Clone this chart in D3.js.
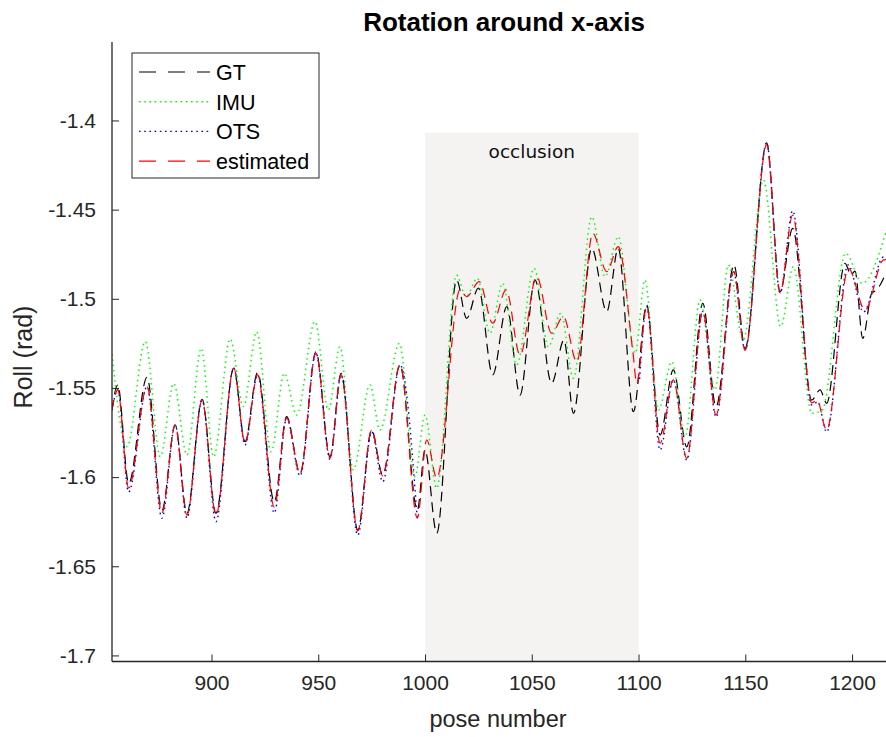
<!DOCTYPE html>
<html><head><meta charset="utf-8">
<script src="https://cdn.jsdelivr.net/npm/d3@7"></script>
<style>body{margin:0;background:#fff;} svg{display:block;}</style>
</head><body><svg id="chart" width="886" height="737"></svg>
<script>
// ---- data ----
const xTicks = [900, 950, 1000, 1050, 1100, 1150, 1200];
const yTicks = [-1.7, -1.65, -1.6, -1.55, -1.5, -1.45, -1.4];
const occlusion = [1000, 1100];
const legendLabels = ["GT", "IMU", "OTS", "estimated"];

const gtPose = [853.4, 856.1, 861.2, 869.8, 876.8, 883.0, 888.5, 895.6, 902.1, 910.4, 915.7, 921.6, 929.4, 935.2, 941.5, 948.9, 955.5, 960.7, 968.5, 975.0, 980.2, 988.3, 996.4, 1000.0, 1005.5, 1014.8, 1019.5, 1025.0, 1031.7, 1038.3, 1044.5, 1051.5, 1059.3, 1065.1, 1069.5, 1078.1, 1085.1, 1090.5, 1097.6, 1103.8, 1110.1, 1116.3, 1122.6, 1130.1, 1136.3, 1144.7, 1149.9, 1160.0, 1166.3, 1172.2, 1181.1, 1185.0, 1188.1, 1196.7, 1199.5, 1201.4, 1205.0, 1209.2, 1211.5, 1215.9];
const gtRoll = [-1.5624, -1.5483, -1.6035, -1.544, -1.6185, -1.5708, -1.6203, -1.5564, -1.6203, -1.539, -1.5801, -1.5414, -1.6138, -1.5661, -1.5979, -1.5297, -1.5886, -1.5418, -1.6297, -1.5736, -1.5988, -1.5371, -1.6185, -1.5848, -1.6315, -1.4895, -1.511, -1.494, -1.5427, -1.5044, -1.554, -1.4895, -1.5474, -1.5231, -1.5642, -1.4717, -1.5072, -1.4717, -1.5633, -1.5035, -1.5764, -1.5399, -1.583, -1.5025, -1.5605, -1.481, -1.5278, -1.4125, -1.496, -1.4605, -1.5568, -1.5511, -1.5586, -1.4801, -1.4865, -1.4845, -1.5222, -1.4969, -1.4951, -1.4855];

const imuPose = [853.4, 860.4, 869.0, 876.0, 882.3, 888.5, 895.2, 901.0, 908.8, 914.9, 921.2, 927.9, 934.1, 939.9, 948.5, 954.7, 960.2, 966.4, 974.2, 978.9, 988.0, 995.3, 1000.0, 1005.5, 1014.8, 1019.2, 1024.5, 1030.4, 1036.4, 1042.9, 1051.1, 1057.8, 1063.6, 1069.5, 1078.1, 1084.3, 1090.5, 1098.4, 1103.0, 1109.3, 1115.6, 1121.8, 1128.8, 1135.8, 1142.1, 1149.0, 1158.5, 1166.6, 1172.5, 1181.1, 1186.0, 1197.0, 1204.8, 1215.9];
const imuRoll = [-1.531, -1.583, -1.524, -1.5886, -1.5474, -1.5876, -1.5278, -1.5886, -1.5225, -1.5605, -1.5185, -1.5858, -1.5418, -1.5652, -1.5128, -1.5624, -1.5269, -1.596, -1.5483, -1.5736, -1.525, -1.5998, -1.5652, -1.6063, -1.4867, -1.4988, -1.4885, -1.5193, -1.4913, -1.5371, -1.4829, -1.5269, -1.5081, -1.5446, -1.454, -1.4876, -1.4652, -1.5306, -1.4895, -1.5624, -1.5353, -1.5773, -1.5007, -1.5511, -1.481, -1.5231, -1.4334, -1.5156, -1.482, -1.5642, -1.5625, -1.4745, -1.4913, -1.4625];

// OTS has no measurements during the occlusion (split into two runs)
const otsPoseA = [853.4, 856.1, 861.2, 869.8, 876.8, 883.0, 888.5, 895.6, 902.1, 910.4, 915.7, 921.6, 929.4, 935.2, 941.5, 948.9, 955.5, 960.7, 968.5, 975.0, 980.2, 988.3, 996.4];
const otsRollA = [-1.5624, -1.5511, -1.6084, -1.5493, -1.623, -1.5708, -1.623, -1.5568, -1.625, -1.5388, -1.582, -1.5427, -1.6201, -1.5669, -1.5993, -1.5304, -1.59, -1.5427, -1.6326, -1.5747, -1.6026, -1.5371, -1.6241];
const otsPoseB = [1100.5, 1103.8, 1110.1, 1116.3, 1122.6, 1130.1, 1136.3, 1144.5, 1149.9, 1160.0, 1166.3, 1172.2, 1181.1, 1184.0, 1188.1, 1198.2, 1205.4, 1214.7, 1215.9];
const otsRollB = [-1.545, -1.5044, -1.5848, -1.5455, -1.5904, -1.5072, -1.5663, -1.4848, -1.5287, -1.4126, -1.4967, -1.4506, -1.5596, -1.5579, -1.5747, -1.481, -1.5074, -1.4766, -1.477];

const estPose = [853.4, 856.1, 861.2, 869.8, 876.8, 883.0, 888.5, 895.6, 902.1, 910.4, 915.7, 921.6, 929.4, 935.2, 941.5, 948.9, 955.5, 960.7, 968.5, 975.0, 980.2, 988.3, 996.4, 1000.8, 1005.5, 1016.4, 1019.5, 1025.4, 1031.7, 1038.0, 1044.5, 1052.3, 1059.3, 1064.8, 1071.1, 1078.6, 1085.1, 1090.5, 1097.4, 1099.2, 1103.8, 1110.1, 1116.3, 1122.6, 1130.1, 1136.3, 1144.5, 1149.9, 1160.0, 1166.3, 1172.2, 1181.1, 1183.6, 1188.1, 1198.3, 1206.1, 1214.7, 1215.9];
const estRoll = [-1.5624, -1.5511, -1.6061, -1.5493, -1.6201, -1.5708, -1.6213, -1.5568, -1.6213, -1.5388, -1.5809, -1.5427, -1.6168, -1.5669, -1.5979, -1.5304, -1.5893, -1.5427, -1.6302, -1.5736, -1.5993, -1.5371, -1.623, -1.5792, -1.6005, -1.495, -1.4988, -1.4904, -1.5137, -1.495, -1.5315, -1.4876, -1.5193, -1.51, -1.5353, -1.4633, -1.4848, -1.4708, -1.5304, -1.5474, -1.5044, -1.581, -1.5455, -1.5895, -1.5072, -1.5652, -1.4848, -1.5287, -1.4137, -1.4967, -1.453, -1.5584, -1.5568, -1.5736, -1.4829, -1.5063, -1.4782, -1.4780];

// ---- layout ----
const svg = d3.select("#chart");
const L = 112, R = 886, T = 42, B = 661.5;
const x = d3.scaleLinear().domain([853.4, 1215.9]).range([L, R]);
const y = d3.scaleLinear().domain([-1.7034, -1.356]).range([B, T]);
const axisColor = "#262626";
const font = "'Liberation Sans', Arial, Helvetica, sans-serif";

svg.append("defs").append("clipPath").attr("id", "clip")
  .append("rect").attr("x", L).attr("y", T).attr("width", R - L + 10).attr("height", B - T);

// occlusion band
svg.append("rect")
  .attr("x", x(occlusion[0])).attr("width", x(occlusion[1]) - x(occlusion[0]))
  .attr("y", y(-1.4068)).attr("height", B - y(-1.4068))
  .attr("fill", "#f4f3f2");
svg.append("text").attr("x", (x(occlusion[0]) + x(occlusion[1])) / 2).attr("y", y(-1.4068) + 25)
  .attr("text-anchor", "middle").attr("font-family", "'DejaVu Sans', sans-serif").attr("font-size", 18.5)
  .attr("fill", "#111").text("occlusion");

const line = d3.line().x(d => x(d[0])).y(d => y(d[1])).curve(d3.curveMonotoneX);
const zip = (a, b) => a.map((v, i) => [v, b[i]]);

const series = [
  {data: [zip(gtPose, gtRoll)], color: "#000000", dash: "10,6", w: 1.2},
  {data: [zip(imuPose, imuRoll)], color: "#00ff00", dash: "1.6,3.6", w: 1.4},
  {data: [zip(otsPoseA, otsRollA), zip(otsPoseB, otsRollB)], color: "#0000ff", dash: "1.6,3.6", w: 1.4},
  {data: [zip(estPose, estRoll)], color: "#ff0000", dash: "10,6", w: 1.2}
];
const g = svg.append("g").attr("clip-path", "url(#clip)");
series.forEach(s => s.data.forEach(d => {
  g.append("path").attr("d", line(d)).attr("fill", "none")
    .attr("stroke", s.color).attr("stroke-width", s.w).attr("stroke-dasharray", s.dash);
}));

// axes
const xAxis = d3.axisBottom(x).tickValues(xTicks).tickSizeInner(-7).tickSizeOuter(0).tickPadding(14)
  .tickFormat(d => String(d));
const yAxis = d3.axisLeft(y).tickValues(yTicks).tickSizeInner(-7).tickSizeOuter(0).tickPadding(16)
  .tickFormat(d => String(+d.toFixed(2)));
const gx = svg.append("g").attr("transform", `translate(0,${B})`).call(xAxis);
const gy = svg.append("g").attr("transform", `translate(${L},0)`).call(yAxis);
[gx, gy].forEach(a => {
  a.select(".domain").attr("stroke", axisColor).attr("stroke-width", 1.3);
  a.selectAll(".tick line").attr("stroke", axisColor).attr("stroke-width", 1);
  a.selectAll(".tick text").attr("fill", axisColor).attr("font-family", font).attr("font-size", 21);
});
gy.select(".domain").attr("d", `M0,${T}V${B}`);
gx.select(".domain").attr("d", `M${L},0H${R + 5}`);

// titles
svg.append("text").attr("x", 504).attr("y", 31).attr("text-anchor", "middle")
  .attr("font-family", font).attr("font-weight", "bold").attr("font-size", 26).attr("fill", "#000")
  .text("Rotation around x-axis");
svg.append("text").attr("x", 498).attr("y", 727).attr("text-anchor", "middle")
  .attr("font-family", font).attr("font-size", 23.5).attr("fill", axisColor).text("pose number");
svg.append("text").attr("transform", "translate(32,357) rotate(-90)").attr("text-anchor", "middle")
  .attr("font-family", font).attr("font-size", 25).attr("fill", axisColor).text("Roll (rad)");

// legend
const lg = svg.append("g");
lg.append("rect").attr("x", 132).attr("y", 53).attr("width", 187).attr("height", 125)
  .attr("fill", "#fff").attr("stroke", axisColor).attr("stroke-width", 1);
const legendStyles = [
  {color: "#000000", dash: "17,12", w: 1.2},
  {color: "#00ff00", dash: "1.6,3.6", w: 1.4},
  {color: "#0000ff", dash: "1.6,3.6", w: 1.4},
  {color: "#ff0000", dash: "17,12", w: 1.2}
];
legendLabels.forEach((lab, i) => {
  const yy = 72 + i * 29.7;
  lg.append("line").attr("x1", 139).attr("x2", 210).attr("y1", yy).attr("y2", yy)
    .attr("stroke", legendStyles[i].color).attr("stroke-width", legendStyles[i].w)
    .attr("stroke-dasharray", legendStyles[i].dash);
  lg.append("text").attr("x", 216).attr("y", yy + 8).attr("font-family", font).attr("font-size", 21.5)
    .attr("fill", "#000").text(lab);
});
</script></body></html>
